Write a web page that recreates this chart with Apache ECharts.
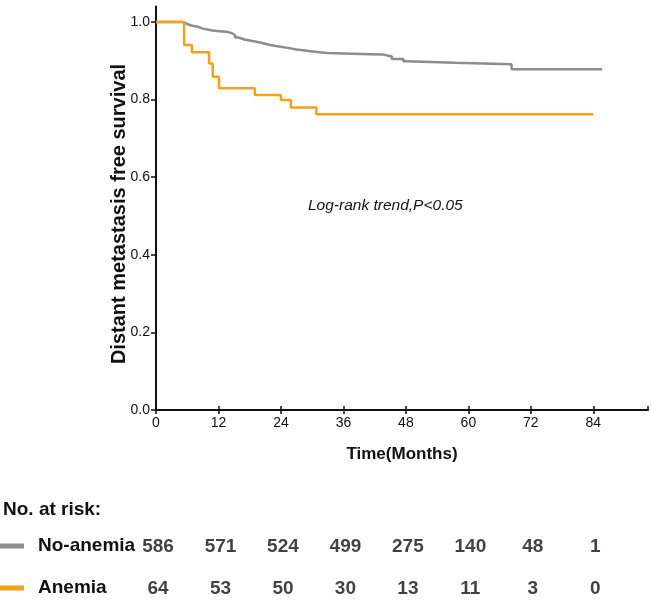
<!DOCTYPE html>
<html>
<head>
<meta charset="utf-8">
<script src="https://cdn.jsdelivr.net/npm/echarts@6/dist/echarts.min.js"></script>
<style>html,body{margin:0;padding:0;background:#fff}#c{width:651px;height:600px}</style>
</head>
<body>
<div id="c"></div>
<script>
// Kaplan-Meier steps: [month, survival]
var noAnemiaCurve = [[0,1.0],[5.2,0.995],[6,0.991],[6.8,0.988],[8,0.983],[9,0.979],[10.5,0.977],[11.7,0.974],[13.9,0.971],[14.6,0.966],[15.2,0.960],[15.8,0.955],[17,0.951],[18.5,0.947],[20,0.942],[21.5,0.938],[23,0.934],[25,0.929],[27,0.926],[29,0.923],[31,0.920],[32.8,0.917],[41,0.916],[43.7,0.911],[45.3,0.905],[47.5,0.899],[48.2,0.895],[57.4,0.891],[68.3,0.878],[85.7,0.878]];
var anemiaCurve = [[0,1.0],[5.4,0.941],[6.9,0.922],[10.2,0.893],[10.9,0.859],[12.1,0.829],[19,0.812],[24,0.799],[25.9,0.780],[30.8,0.762],[84,0.762]];
var riskTimes = [0,12,24,36,48,60,72,84];
var noAnemiaRisk = [586,571,524,499,275,140,48,1];
var anemiaRisk = [64,53,50,30,13,11,3,0];
var groups = ['No-anemia','Anemia'];
var yTicks = [0,0.2,0.4,0.6,0.8,1.0];

var riskData = [];
riskTimes.forEach(function(t,i){ riskData.push([t,1,noAnemiaRisk[i]]); riskData.push([t,2,anemiaRisk[i]]); });

var chart = echarts.init(document.getElementById('c'));
var F = 'Liberation Sans, Arial, sans-serif';
chart.setOption({
  animation:false,
  color:['#8c8c8c','#f5a11c'],
  title:[{text:'No. at risk:',left:3,top:500,padding:0,textStyle:{fontFamily:F,fontSize:19,fontWeight:'bold',color:'#111'}}],
  legend:{data:groups,orient:'vertical',left:0,top:535,height:90,padding:0,itemWidth:24,itemHeight:5,itemGap:20,icon:'rect',selectedMode:false,
    textStyle:{fontFamily:F,fontSize:19,fontWeight:'bold',color:'#111',lineHeight:22,padding:[0,0,0,9]}},
  graphic:[
    {type:'text',left:308,top:198,style:{text:'Log-rank trend,P<0.05',fontFamily:F,fontSize:15.5,fontStyle:'italic',fill:'#111'}},
    {type:'text',x:119,y:214,rotation:Math.PI/2,style:{text:'Distant metastasis free survival',fontFamily:F,fontSize:20,fontWeight:'bold',fill:'#111',align:'center',verticalAlign:'middle'}}
  ],
  grid:[{left:156,top:6.5,width:492,height:403.5},{left:156,top:505,width:492,height:84}],
  xAxis:[
    {gridIndex:0,type:'value',min:0,max:94.5,interval:12,
     name:'Time(Months)',nameLocation:'middle',nameGap:36,nameTextStyle:{fontFamily:F,fontSize:17,fontWeight:'bold',color:'#111'},
     axisLine:{lineStyle:{color:'#111',width:2}},axisTick:{length:4,lineStyle:{color:'#111',width:1.5}},
     axisLabel:{fontFamily:F,fontSize:14,color:'#111',margin:6,showMaxLabel:false},splitLine:{show:false}},
    {gridIndex:0,type:'value',min:0,max:94.5,interval:12,position:'bottom',
     axisLine:{show:false},axisTick:{inside:true,length:4,lineStyle:{color:'#111',width:1.5}},axisLabel:{show:false},splitLine:{show:false}},
    {gridIndex:1,type:'value',min:0,max:94.5,show:false}
  ],
  yAxis:[
    {gridIndex:0,type:'value',min:0,max:1.04,
     axisLine:{lineStyle:{color:'#111',width:2}},
     axisTick:{customValues:yTicks,length:5,lineStyle:{color:'#111',width:1.5}},
     axisLabel:{customValues:yTicks,fontFamily:F,fontSize:14,color:'#111',margin:6,formatter:function(v){return v.toFixed(1);}},
     splitLine:{show:false}},
    {gridIndex:1,type:'value',min:0,max:2,inverse:true,show:false}
  ],
  series:[
    {name:'No-anemia',type:'line',step:'end',xAxisIndex:0,yAxisIndex:0,data:noAnemiaCurve,showSymbol:false,lineStyle:{width:2.5,color:'#8c8c8c'},itemStyle:{color:'#8c8c8c'},z:3},
    {name:'Anemia',type:'line',step:'end',xAxisIndex:0,yAxisIndex:0,data:anemiaCurve,showSymbol:false,lineStyle:{width:2.5,color:'#f5a11c'},itemStyle:{color:'#f5a11c'},z:4},
    {type:'scatter',xAxisIndex:2,yAxisIndex:1,data:riskData,symbolSize:0,silent:true,
     label:{show:true,position:'inside',offset:[2,0],formatter:function(p){return p.value[2];},fontFamily:F,fontSize:19,fontWeight:'bold',color:'#111'}}
  ]
});
</script>
</body>
</html>
